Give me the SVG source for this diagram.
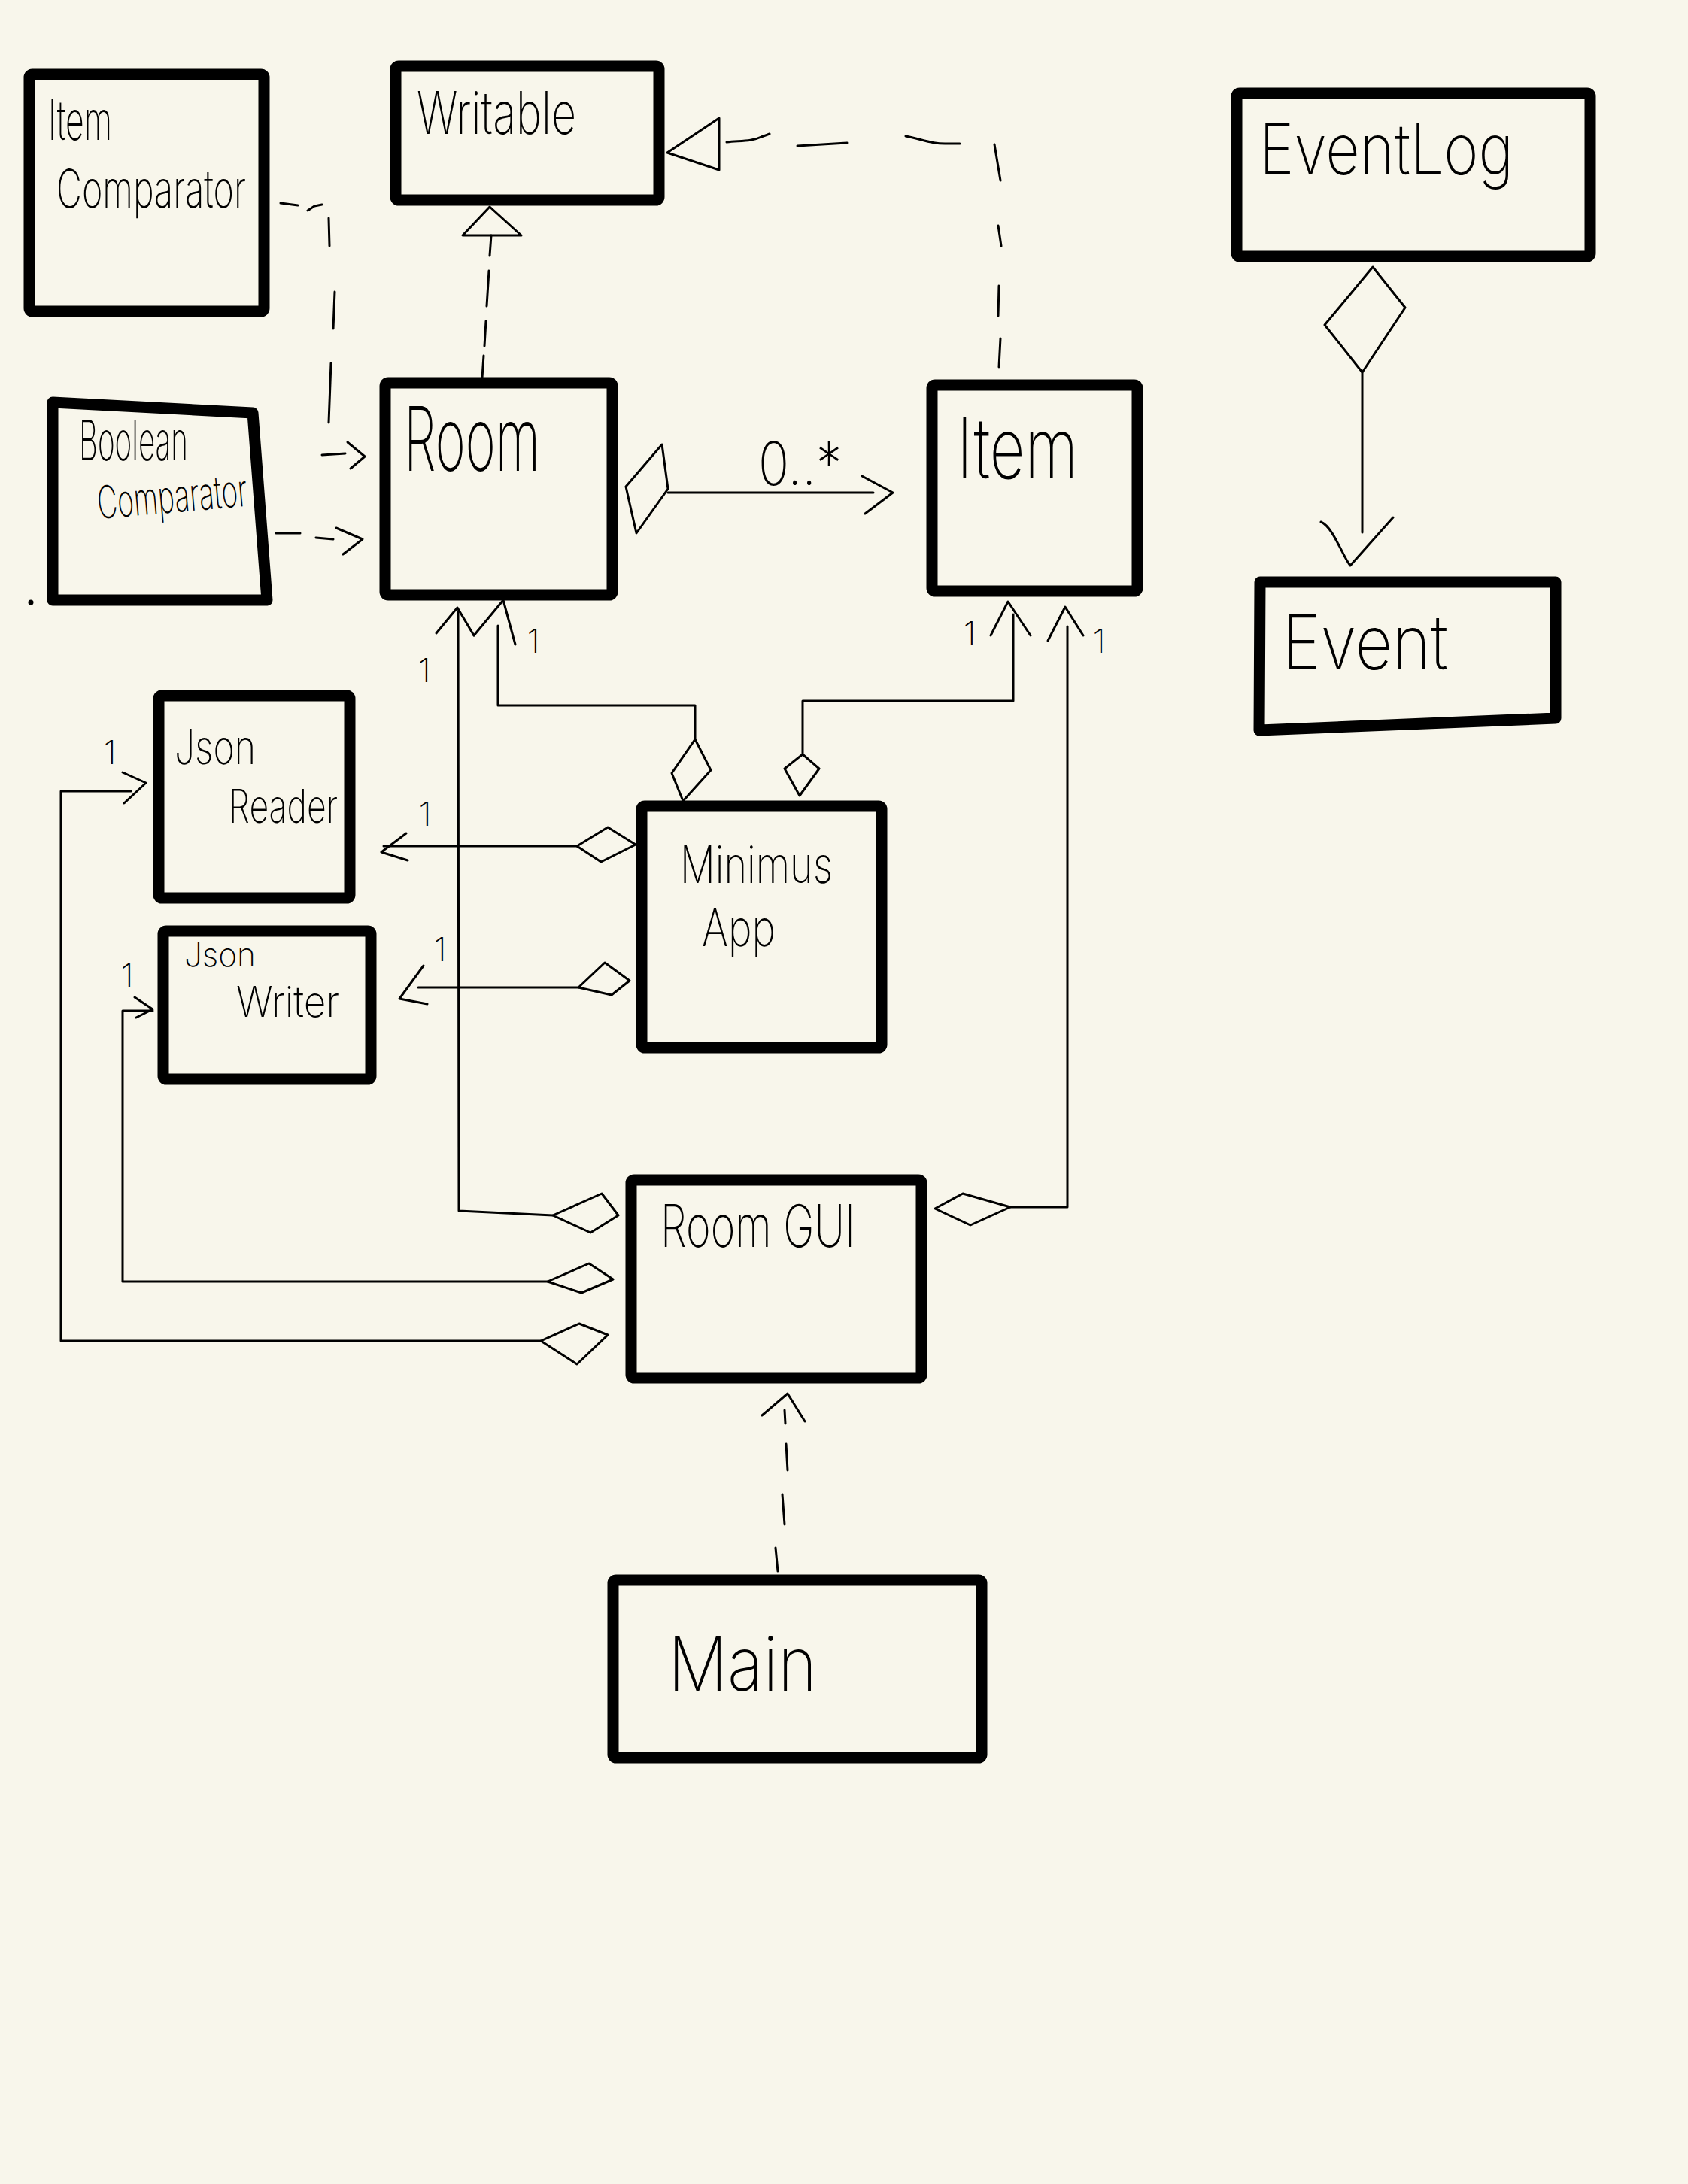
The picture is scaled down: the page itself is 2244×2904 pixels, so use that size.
<svg xmlns="http://www.w3.org/2000/svg" width="2244" height="2904" viewBox="0 0 2244 2904">
  <defs>
    <style>
      .box { fill: none; stroke: #000; stroke-width: 15; stroke-linejoin: round; }
      .ln { fill: none; stroke: #000; stroke-width: 3; stroke-linecap: round; stroke-linejoin: round; }
      .hand { font-family: Inter, Lato, Roboto, "Noto Sans", sans-serif; font-weight: 200; fill: #000; }
      .mult { font-family: Inter, Lato, Roboto, "Noto Sans", sans-serif; font-weight: 200; fill: #000; font-size: 44px; text-anchor: middle; }
    </style>
  </defs>

  <!-- paper -->
  <rect x="0" y="0" width="2244" height="2904" fill="#f8f6eb"/>

  <!-- classes -->
  <g id="item-comparator">
    <rect class="box" x="39" y="99" width="312" height="315" rx="4"/>
    <text class="hand" x="64" y="186" font-size="74" textLength="85" lengthAdjust="spacingAndGlyphs">Item</text>
    <text class="hand" x="75" y="276" font-size="70" textLength="252" lengthAdjust="spacingAndGlyphs">Comparator</text>
  </g>

  <g id="writable">
    <rect class="box" x="526" y="88" width="350" height="178" rx="4"/>
    <text class="hand" x="554" y="178" font-size="78" textLength="212" lengthAdjust="spacingAndGlyphs">Writable</text>
  </g>

  <g id="boolean-comparator">
    <polygon class="box" points="70,535 336,549 355,798 70,798"/>
    <circle cx="41" cy="801" r="3.5" fill="#000"/>
    <text class="hand" x="105" y="612" font-size="74" textLength="145" lengthAdjust="spacingAndGlyphs">Boolean</text>
    <text class="hand" x="131" y="690" font-size="60" textLength="200" lengthAdjust="spacingAndGlyphs" transform="rotate(-5 131 690)">Comparator</text>
  </g>

  <g id="room">
    <rect class="box" x="512" y="509" width="302" height="282" rx="4"/>
    <text class="hand" x="537" y="626" font-size="118" textLength="181" lengthAdjust="spacingAndGlyphs">Room</text>
  </g>

  <g id="item">
    <rect class="box" x="1239" y="512" width="273" height="274" rx="4"/>
    <text class="hand" x="1272" y="636" font-size="112" textLength="161" lengthAdjust="spacingAndGlyphs">Item</text>
  </g>

  <g id="event-log">
    <rect class="box" x="1644" y="124" width="470" height="217" rx="4"/>
    <text class="hand" x="1674" y="232" font-size="94" textLength="338" lengthAdjust="spacingAndGlyphs">EventLog</text>
  </g>

  <g id="event">
    <polygon class="box" points="1675,774 2068,774 2068,955 1674,971"/>
    <text class="hand" x="1705" y="890" font-size="100" textLength="220" lengthAdjust="spacingAndGlyphs">Event</text>
  </g>

  <g id="json-reader">
    <rect class="box" x="211" y="925" width="254" height="269" rx="4"/>
    <text class="hand" x="232" y="1016" font-size="64" textLength="108" lengthAdjust="spacingAndGlyphs">Json</text>
    <text class="hand" x="304" y="1094" font-size="62" textLength="145" lengthAdjust="spacingAndGlyphs">Reader</text>
  </g>

  <g id="json-writer">
    <rect class="box" x="217" y="1238" width="276" height="197" rx="4"/>
    <text class="hand" x="245" y="1285" font-size="44" textLength="95" lengthAdjust="spacingAndGlyphs">Json</text>
    <text class="hand" x="314" y="1352" font-size="56" textLength="137" lengthAdjust="spacingAndGlyphs">Writer</text>
  </g>

  <g id="minimus-app">
    <rect class="box" x="853" y="1072" width="319" height="321" rx="4"/>
    <text class="hand" x="904" y="1174" font-size="68" textLength="203" lengthAdjust="spacingAndGlyphs">Minimus</text>
    <text class="hand" x="933" y="1258" font-size="68" textLength="98" lengthAdjust="spacingAndGlyphs">App</text>
  </g>

  <g id="room-gui">
    <rect class="box" x="839" y="1569" width="386" height="263" rx="4"/>
    <text class="hand" x="878" y="1658" font-size="78" textLength="259" lengthAdjust="spacingAndGlyphs">Room GUI</text>
  </g>

  <g id="main">
    <rect class="box" x="815" y="2101" width="490" height="236" rx="4"/>
    <text class="hand" x="888" y="2248" font-size="100" textLength="198" lengthAdjust="spacingAndGlyphs">Main</text>
  </g>

  <!-- relationships -->
  <g id="connectors">
    <!-- ItemComparator ..> Room -->
    <path class="ln" d="M373,270 L396,273 M409,280 L418,274 L428,272 M437,290 L438,327 M445,388 L443,437 M440,483 L437,562 M428,605 L459,603"/>
    <polyline class="ln" points="462,588 485,607 466,623"/>

    <!-- BooleanComparator ..> Room -->
    <path class="ln" d="M367,709 L399,709 M420,715 L443,717"/>
    <polyline class="ln" points="447,702 482,717 456,737"/>

    <!-- Room ..|> Writable -->
    <path class="ln" d="M653,313 L651,340 M650,360 L647,407 M646,427 L644,460 M643,473 L641,502"/>
    <polygon class="ln" points="651,275 615,313 693,313"/>

    <!-- Item ..|> Writable -->
    <path class="ln" d="M966,189 C985,187 1000,188 1012,182 L1023,178 M1060,194 L1126,190 M1204,181 C1225,185 1240,192 1260,191 L1276,191 M1322,192 L1330,240 M1327,300 L1331,327 M1328,380 L1327,420 M1330,450 L1328,488"/>
    <polygon class="ln" points="887,203 956,157 956,226"/>

    <!-- Room <>-> Item 0..* -->
    <polygon class="ln" points="880,591 888,650 846,709 832,647"/>
    <path class="ln" d="M888,655 L1161,655"/>
    <polyline class="ln" points="1146,633 1187,655 1150,683"/>
    <text class="hand" x="1008" y="645" font-size="80" textLength="111" lengthAdjust="spacingAndGlyphs">0..*</text>

    <!-- MinimusApp <>-> Room -->
    <polygon class="ln" points="924,983 945,1024 908,1065 893,1028"/>
    <polyline class="ln" points="924,983 924,938 662,938 662,832"/>
    <polyline class="ln" points="630,845 669,798 685,857"/>
    <text class="mult" x="709" y="868">1</text>

    <!-- MinimusApp <>-> Item -->
    <polygon class="ln" points="1067,1003 1089,1022 1063,1058 1043,1022"/>
    <polyline class="ln" points="1067,1003 1067,932 1347,932 1347,817"/>
    <polyline class="ln" points="1317,845 1340,800 1370,845"/>
    <text class="mult" x="1289" y="858">1</text>

    <!-- RoomGUI <>-> Room -->
    <polygon class="ln" points="822,1616 800,1587 735,1616 785,1639"/>
    <polyline class="ln" points="735,1616 610,1610 609,813"/>
    <polyline class="ln" points="580,842 608,808 630,845"/>
    <text class="mult" x="564" y="907">1</text>

    <!-- RoomGUI <>-> Item -->
    <polygon class="ln" points="1243,1607 1280,1587 1343,1605 1290,1629"/>
    <polyline class="ln" points="1343,1605 1419,1605 1419,833"/>
    <polyline class="ln" points="1393,852 1416,807 1440,845"/>
    <text class="mult" x="1461" y="868">1</text>

    <!-- MinimusApp <>-> JsonReader -->
    <polygon class="ln" points="845,1123 808,1100 767,1125 799,1146"/>
    <path class="ln" d="M767,1125 L510,1125"/>
    <polyline class="ln" points="540,1108 507,1133 542,1144"/>
    <text class="mult" x="565" y="1098">1</text>

    <!-- MinimusApp <>-> JsonWriter -->
    <polygon class="ln" points="837,1304 804,1280 769,1313 813,1323"/>
    <path class="ln" d="M769,1313 L556,1313"/>
    <polyline class="ln" points="563,1284 531,1328 568,1335"/>
    <text class="mult" x="585" y="1278">1</text>

    <!-- RoomGUI <>-> JsonWriter -->
    <polygon class="ln" points="815,1701 783,1680 728,1704 773,1719"/>
    <polyline class="ln" points="728,1704 163,1704 163,1344 203,1344"/>
    <polyline class="ln" points="179,1326 203,1342 181,1353"/>
    <text class="mult" x="169" y="1313">1</text>

    <!-- RoomGUI <>-> JsonReader -->
    <polygon class="ln" points="808,1775 770,1760 719,1783 767,1814"/>
    <polyline class="ln" points="719,1783 81,1783 81,1052 174,1052"/>
    <polyline class="ln" points="163,1027 194,1041 165,1068"/>
    <text class="mult" x="146" y="1016">1</text>

    <!-- Main ..> RoomGUI -->
    <path class="ln" d="M1043,1875 L1044,1893 M1045,1920 L1047,1955 M1040,1987 L1043,2027 M1031,2058 L1034,2089"/>
    <polyline class="ln" points="1013,1882 1047,1853 1070,1890"/>

    <!-- EventLog <>-> Event -->
    <polygon class="ln" points="1825,355 1868,409 1811,495 1761,432"/>
    <path class="ln" d="M1811,495 L1811,708"/>
    <path class="ln" d="M1756,694 C1772,700 1785,740 1795,752 L1852,688"/>
  </g>
</svg>
